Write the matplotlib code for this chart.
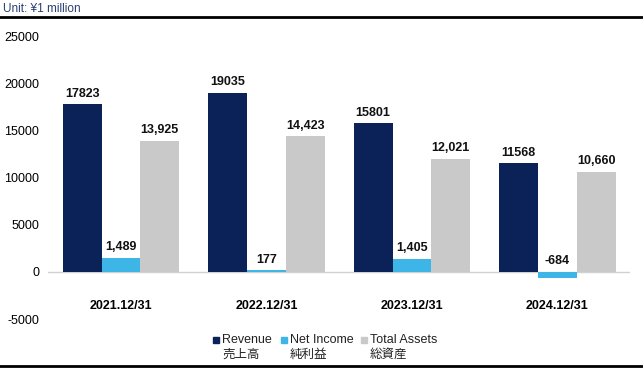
import matplotlib.pyplot as plt
from matplotlib.lines import Line2D
from matplotlib.patches import Rectangle
import numpy as np

plt.rcParams['font.family'] = ['Liberation Sans', 'Noto Sans CJK JP', 'DejaVu Sans']
plt.rcParams['axes.unicode_minus'] = False

# datos
periodos = ['2021.12/31', '2022.12/31', '2023.12/31', '2024.12/31']
ingresos = [17823, 19035, 15801, 11568]
beneficio = [1489, 177, 1405, -684]
activos = [13925, 14423, 12021, 10660]

etiq_ingresos = ['17823', '19035', '15801', '11568']
etiq_beneficio = ['1,489', '177', '1,405', '-684']
etiq_activos = ['13,925', '14,423', '12,021', '10,660']

series = [
    ('Revenue', '売上高', ingresos, etiq_ingresos, '#0b2258'),
    ('Net Income', '純利益', beneficio, etiq_beneficio, '#3db5e6'),
    ('Total Assets', '総資産', activos, etiq_activos, '#c9c9c9'),
]

W, H = 643, 369
fig = plt.figure(figsize=(6.43, 3.69), dpi=100)
ax = fig.add_axes([0.075, 0.1355, 0.905, 0.7645])

x = np.arange(len(periodos))
ancho = 0.267
for i, (nombre, nombre_jp, vals, etiqs, color) in enumerate(series):
    pos = x + (i - 1) * ancho
    ax.bar(pos, vals, width=ancho, color=color)
    for p, v, t in zip(pos, vals, etiqs):
        ax.text(p, max(v, 0) + 500, t, ha='center', va='bottom',
                fontsize=9, fontweight='bold', color='#111111')

ax.axhline(0, color='#d0d0d0', lw=1, zorder=0)
ax.set_xlim(-0.5, 3.5)
ax.set_ylim(-5000, 25000)
ax.set_yticks([-5000, 0, 5000, 10000, 15000, 20000, 25000])
ax.tick_params(axis='y', length=0, labelsize=9, pad=6.5)
ax.set_xticks([])
for s in ax.spines.values():
    s.set_visible(False)

# etiquetas de categoría
for xi, per in zip(x, periodos):
    ax.text(xi, -3600, per, ha='center', va='center', fontsize=9, fontweight='bold')

# leyenda manual (cuadro alineado con la primera línea)
leyenda_x = [213, 281, 361]
for lx, (nombre, nombre_jp, vals, etiqs, color) in zip(leyenda_x, series):
    fig.add_artist(Rectangle((lx / W, 1 - 343 / H), 6 / W, 6 / H,
                             color=color, transform=fig.transFigure))
    fig.text((lx + 9) / W, 1 - 340 / H, nombre, fontsize=9, va='center', color='#222222')
    fig.text((lx + 9) / W, 1 - 355 / H, nombre_jp, fontsize=9, va='center', color='#222222')

fig.text(0.005, 0.975, 'Unit: ¥1 million', fontsize=8.5, color='#2b3f75', va='center')
fig.add_artist(Line2D([0, 1], [0.953, 0.953], color='black', lw=2))
fig.add_artist(Line2D([0, 1], [0.007, 0.007], color='black', lw=2))

fig.savefig('out.png', dpi=100)
